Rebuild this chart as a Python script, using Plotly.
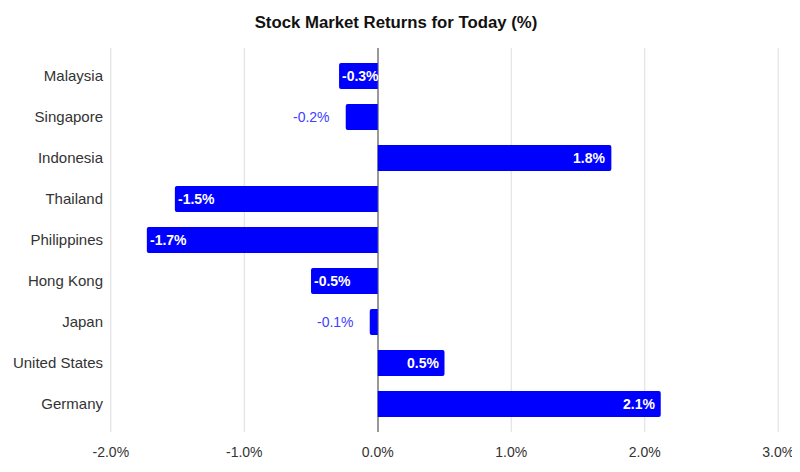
import plotly.graph_objects as go

countries = ["Malaysia", "Singapore", "Indonesia", "Thailand", "Philippines",
             "Hong Kong", "Japan", "United States", "Germany"]
returns = [-0.29, -0.24, 1.75, -1.52, -1.73, -0.50, -0.06, 0.50, 2.12]
labels = ["-0.3%", "-0.2%", "1.8%", "-1.5%", "-1.7%", "-0.5%", "-0.1%", "0.5%", "2.1%"]
inside = [True, False, True, True, True, True, False, True, True]
x_ticks = [-2, -1, 0, 1, 2, 3]
x_tick_text = ["-2.0%", "-1.0%", "0.0%", "1.0%", "2.0%", "3.0%"]

BAR = "#0000ff"
FONT = "Liberation Sans"

fig = go.Figure()
fig.add_trace(go.Bar(
    x=returns, y=countries, orientation="h",
    marker=dict(color=BAR, line=dict(width=0)),
    hoverinfo="skip",
))

annotations = []
for c, v, lab, ins in zip(countries, returns, labels, inside):
    if ins:
        annotations.append(dict(
            x=v, y=c, xref="x", yref="y", text="<b>" + lab + "</b>", showarrow=False,
            xanchor="left" if v < 0 else "right",
            xshift=1 if v < 0 else -4,
            font=dict(family=FONT, size=14, color="white"),
        ))
    else:
        annotations.append(dict(
            x=v, y=c, xref="x", yref="y", text=lab, showarrow=False,
            xanchor="right" if v < 0 else "left",
            xshift=-14 if v < 0 else 14,
            font=dict(family=FONT, size=14, color="#4040ff"),
        ))

# vertical gridlines (drawn as shapes so the edge lines are kept)
shapes = []
for t in x_ticks:
    if t == 0:
        continue
    shapes.append(dict(type="line", xref="x", yref="paper", x0=t, x1=t, y0=0, y1=1,
                       line=dict(color="#dddddd", width=1), layer="below"))

# page is offset by the browser's 8px body margin; sizes compensate
fig.update_layout(
    width=792, height=456,
    margin=dict(l=102, r=21, t=40, b=32, autoexpand=False),
    paper_bgcolor="white", plot_bgcolor="white",
    bargap=0.366,
    barcornerradius=2,
    showlegend=False,
    title=dict(text="<b>Stock Market Returns for Today (%)</b>",
               x=388 / 792, xanchor="center", y=1 - 14 / 456, yanchor="middle",
               font=dict(family=FONT, size=16.75, color="#111111")),
    annotations=annotations,
    shapes=shapes,
    font=dict(family=FONT, size=14, color="#333333"),
)
fig.update_xaxes(
    range=[-2.006, 3.006], tickvals=x_ticks, ticktext=x_tick_text,
    showgrid=False,
    zeroline=True, zerolinecolor="#999999", zerolinewidth=1.5,
    showline=False,
    tickfont=dict(family=FONT, size=14, color="#333333"),
    ticks="", ticklabelstandoff=10, ticklabeloverflow="allow",
    fixedrange=True,
)
fig.update_yaxes(
    categoryorder="array", categoryarray=countries,
    range=[8.683, -0.683],
    showgrid=False, showline=False, zeroline=False,
    ticks="", ticklabelstandoff=6,
    tickfont=dict(family=FONT, size=15, color="#333333"),
    fixedrange=True,
)

fig.write_html("out.html")
